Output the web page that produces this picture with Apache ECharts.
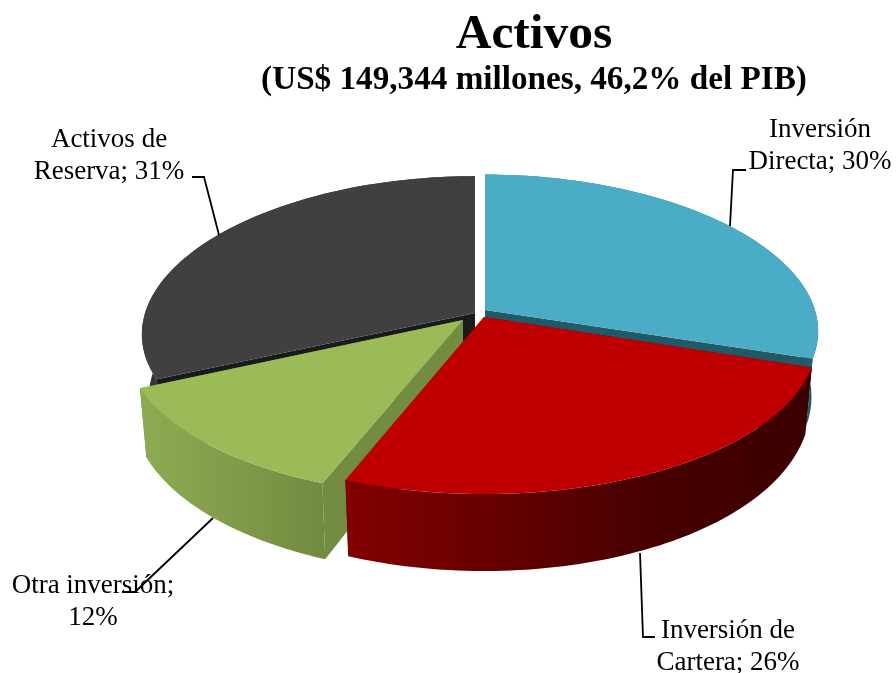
<!DOCTYPE html>
<html><head><meta charset="utf-8">
<style>html,body{margin:0;padding:0;background:#fff}#c{width:896px;height:673px}</style>
<script src="https://cdn.jsdelivr.net/npm/echarts@6/dist/echarts.min.js"></script>
</head><body><div id="c"></div>
<script>
const categories = ['Inversión Directa', 'Inversión de Cartera', 'Otra inversión', 'Activos de Reserva'];
const values = [29.6, 26.4, 12.4, 31.4];
const sliceLabels = ['Inversión\nDirecta; 30%', 'Inversión de\nCartera; 26%', 'Otra inversión;\n12%', 'Activos de\nReserva; 31%'];
const titleText = 'Activos';
const subtitleText = '(US$ 149,344 millones, 46,2% del PIB)';

const F = '"Liberation Serif","Times New Roman",serif';
const apex = [[485,310],[484,317],[463,320],[475,313]];
const ryScale = [0.96,1,1,0.97];
const rxScale = [1,1,1.015,1];
const layer = [1,3,2,0];
const topCol = ['#4bacc6','#c00000','#9bbb59','#404040'];
const faceCol = ['#215967','#600000','#738c41','#1a1a1a'];
const wallStops = [
  [[0,'#2f7689'],[1,'#215967']],
  [[0,'#840000'],[0.3,'#680000'],[0.65,'#480000'],[1,'#3c0000']],
  [[0,'#8dab52'],[0.6,'#7c9648'],[1,'#6d883b']],
  [[0,'#353535'],[1,'#3a3a3a']]
];
const wallRange = [[640,820],[342,812],[142,345],[140,480]];
const RX = 331, RY = 157, K = 0.113, SHRINK = 0.98, BULGE = 4;
const total = values.reduce((a,b)=>a+b,0);

function topPt(i,t){const u=Math.sin(t),v=Math.cos(t),w=1+K*v,x=RX*rxScale[i]*u/w;
  return [apex[i][0]+x, apex[i][1]-RY*ryScale[i]*v/w+BULGE*u*u];}
function botPt(i,t){const p=topPt(i,t),v=Math.cos(t);
  return [apex[i][0]+(p[0]-apex[i][0])*SHRINK, p[1]+64-13*v];}
function arc(f,i,a,b){const n=80,out=[];for(let k=0;k<=n;k++)out.push(f(i,a+(b-a)*k/n));return out;}

function renderItem(params, api){
  const i=params.dataIndex;
  let before=0;for(let k=0;k<i;k++)before+=values[k];
  const a=before/total*2*Math.PI, b=(before+api.value(0))/total*2*Math.PI;
  const A=apex[i], Ab=[A[0],A[1]+64];
  const poly=(pts,fill,k)=>({type:'polygon',z2:layer[i]*10+k,shape:{points:pts},style:{fill:fill,stroke:null},silent:true});
  const wall=new echarts.graphic.LinearGradient(wallRange[i][0],0,wallRange[i][1],0,
    wallStops[i].map(s=>({offset:s[0],color:s[1]})),true);
  const children=[
    poly([A,topPt(i,a),botPt(i,a),Ab],faceCol[i],0),
    poly([A,topPt(i,b),botPt(i,b),Ab],faceCol[i],1),
    poly(arc(topPt,i,a,b).concat(arc(botPt,i,a,b).reverse()),wall,2),
    poly([A].concat(arc(topPt,i,a,b)),topCol[i],3)
  ];
  return {type:'group',children:children};
}
const label=(text,x,y)=>({type:'text',z:10,style:{text:text,x:x,y:y,fill:'#000',font:'27px '+F,align:'center',verticalAlign:'top',lineHeight:32}});
const lead=(pts)=>({type:'polyline',z:9,shape:{points:pts},style:{stroke:'#000',lineWidth:1.8,fill:null}});

const chart=echarts.init(document.getElementById('c'),null,{renderer:'canvas'});
chart.setOption({
  animation:false,backgroundColor:'#fff',
  title:[
    {text:titleText,left:529,top:5,textAlign:'center',textStyle:{fontFamily:F,fontWeight:'bold',fontSize:49.5,color:'#000'}},
    {text:subtitleText,left:529,top:59,textAlign:'center',textStyle:{fontFamily:F,fontWeight:'bold',fontSize:33.2,color:'#000'}}
  ],
  series:[{type:'custom',coordinateSystem:'none',renderItem:renderItem,data:values.map((v,i)=>({name:categories[i],value:[v]}))}],
  graphic:[
    label(sliceLabels[0],820,114),
    label(sliceLabels[1],728,615),
    label(sliceLabels[2],93,570),
    label(sliceLabels[3],109,124),
    lead([[730,226],[733,170],[746,170]]),
    lead([[640,553],[643,637],[655,637]]),
    lead([[213,518],[135,592],[122,592]]),
    lead([[192,177],[204,177],[219,235]])
  ]
});
</script></body></html>
